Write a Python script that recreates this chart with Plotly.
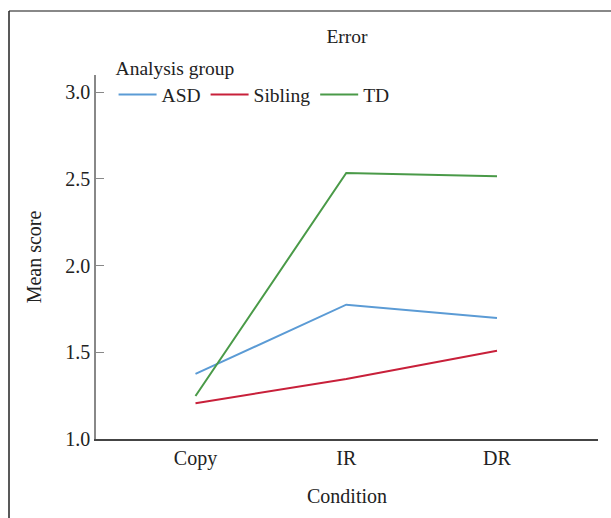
import plotly.graph_objects as go

conditions = ["Copy", "IR", "DR"]
groups = ["ASD", "Sibling", "TD"]
asd = [1.375, 1.774, 1.697]
sibling = [1.206, 1.346, 1.509]
td = [1.248, 2.533, 2.514]
colors = ["#5b9bd5", "#c8203a", "#4a9a48"]
y_ticks = [1.0, 1.5, 2.0, 2.5, 3.0]

FONT = "Liberation Serif"
TXT = "#222"
f20 = dict(family=FONT, size=20, color=TXT)
f19 = dict(family=FONT, size=19.5, color=TXT)

fig = go.Figure()
for name, vals, col in zip(groups, [asd, sibling, td], colors):
    fig.add_trace(go.Scatter(x=conditions, y=vals, mode="lines", name=name,
                             line=dict(color=col, width=2)))

fig.update_layout(
    width=611, height=518,
    margin=dict(l=96, r=13, t=75, b=79, autoexpand=False),
    paper_bgcolor="white", plot_bgcolor="white",
    font=f20,
    title=dict(text="Error", x=0.5, xref="paper", y=1 - 36/518, yref="container",
               xanchor="center", yanchor="middle", font=f19),
    showlegend=True,
    legend=dict(orientation="h", x=0.035, xanchor="left", y=(439 - 50) / 364, yanchor="top",
                title=dict(text="Analysis group", side="top", font=f19),
                font=f19, bgcolor="rgba(0,0,0,0)", tracegroupgap=0, itemwidth=38),
    xaxis=dict(type="category", range=[-0.66, 2.67], showline=True, linecolor="#444",
               linewidth=1.5, ticks="", showgrid=False, zeroline=False, tickfont=f20,
               title=dict(text="Condition", standoff=20, font=f20)),
    yaxis=dict(range=[1.0, 3.098], tickvals=y_ticks, ticktext=[f"{v:.1f}" for v in y_ticks],
               showline=True, linecolor="#888", linewidth=1.5, ticks="inside", ticklen=8,
               tickcolor="#888", showgrid=False, zeroline=False, tickfont=f20,
               title=dict(text="Mean score", standoff=18, font=f20)),
)

# figure border (top and left)
x0 = (9 - 96) / 502
y_top = (439 - 11) / 364
fig.add_shape(type="line", xref="paper", yref="paper", x0=x0, x1=2, y0=y_top, y1=y_top,
              line=dict(color="#888", width=2))
fig.add_shape(type="line", xref="paper", yref="paper", x0=x0, x1=x0, y0=y_top, y1=-1,
              line=dict(color="#222", width=1.5))

fig.write_html("out.html")
